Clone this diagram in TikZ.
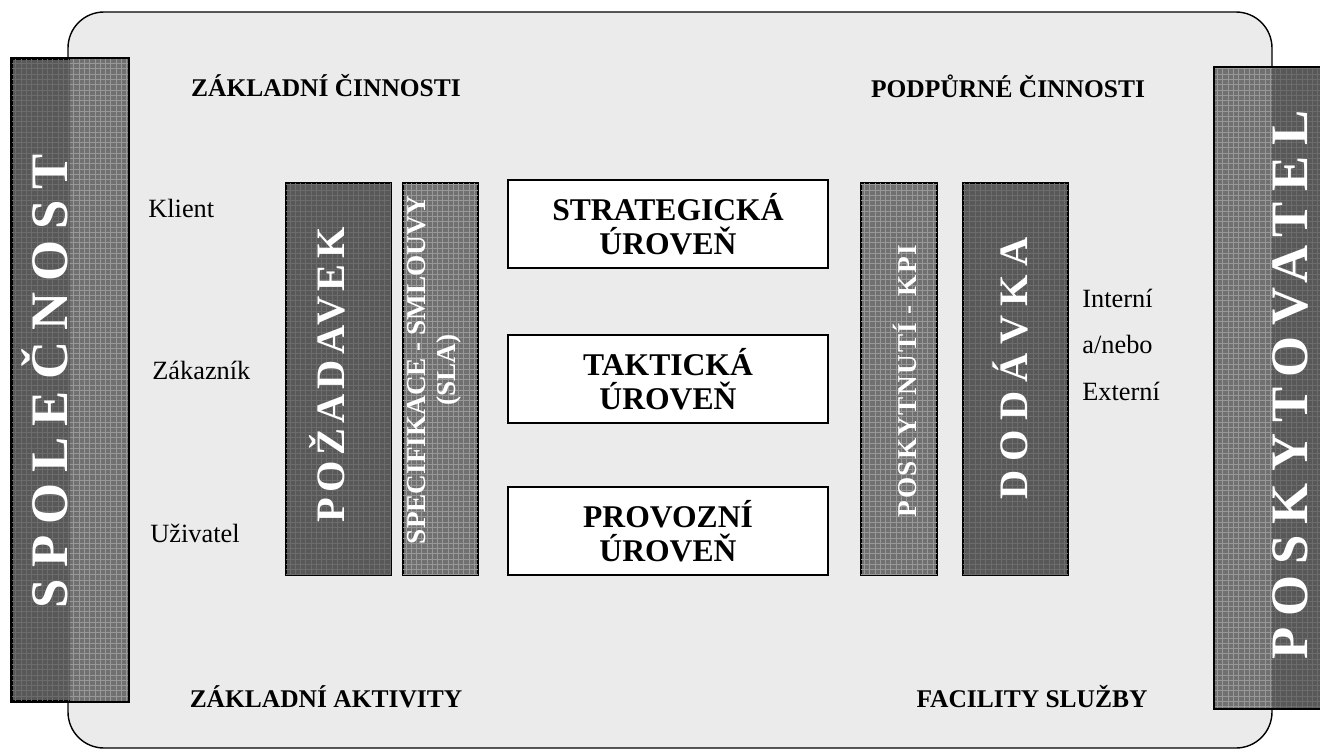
\documentclass[tikz,border=0pt]{standalone}
\usepackage{fontspec}
\setmainfont{Liberation Serif}
\usetikzlibrary{patterns}

\definecolor{panelgray}{RGB}{235,235,235}
\definecolor{bardark}{RGB}{88,88,88}
\definecolor{barmesh}{RGB}{112,112,112}

% fonts for the rotated bar captions
\newcommand\sidefont{\fontsize{30}{30}\selectfont\bfseries\addfontfeature{LetterSpace=21}}
\newcommand\colfont{\fontsize{23}{23}\selectfont\bfseries}
\newcommand\thinfont{\fontsize{15.5}{17}\selectfont\bfseries}
\newcommand\levelfont{\fontsize{18}{19.5}\selectfont\bfseries}
\newcommand\headfont{\fontsize{14.5}{16}\selectfont\bfseries}
\newcommand\labelfont{\fontsize{15}{17}\selectfont}

\tikzset{
  panel/.style={draw=black,line width=0.8pt,fill=panelgray,rounded corners=0.72cm},
  darkbar/.style={draw=black,line width=1pt,fill=bardark,inner sep=0pt,
    postaction={pattern=grid,pattern color=bardark!88!white}},
  meshbar/.style={draw=black,line width=1pt,fill=barmesh,inner sep=0pt,
    postaction={pattern=grid,pattern color=barmesh!72!white}},
  meshhalf/.style={fill=barmesh,postaction={pattern=grid,pattern color=barmesh!72!white}},
  barline/.style={draw=black,line width=1pt},
  bartext/.style={text=white,rotate=90,inner sep=0pt,align=center},
  levelbox/.style={draw=black,line width=1pt,fill=white,align=center,
    minimum width=6.4cm,minimum height=1.76cm,inner sep=0pt,font=\levelfont},
  heading/.style={font=\headfont,inner sep=0pt},
  sidelabel/.style={font=\labelfont,anchor=west,inner sep=0pt}
}

\begin{document}
\begin{tikzpicture}[x=0.02cm,y=-0.02cm]
\useasboundingbox (0,0) rectangle (1320,754);

% background panel
\draw[panel] (68,12) rectangle (1272,748);

% side bars
\node[darkbar,minimum width=2.32cm,minimum height=12.84cm] (spolbar) at (70,380) {};
\path[meshhalf] (spolbar.north) rectangle (spolbar.south east);
\draw[barline] (spolbar.south west) rectangle (spolbar.north east);
\node[bartext,font=\sidefont] (spol) at (45,381) {SPOLEČNOST};

\node[darkbar,minimum width=2.3cm,minimum height=12.82cm] (poskbar) at (1272,388) {};
\path[meshhalf] (poskbar.north west) rectangle (poskbar.south);
\draw[barline] (poskbar.south west) rectangle (poskbar.north east);
\node[bartext,font=\sidefont] (posk) at (1290,385) {POSKYTOVATEL};

% columns left of the levels
\node[darkbar,minimum width=2.1cm,minimum height=7.84cm] (pozbar) at (338.5,379) {};
\node[bartext,font=\colfont\addfontfeature{LetterSpace=13}] (poz) at (327,375) {POŽADAVEK};
\node[meshbar,minimum width=1.5cm,minimum height=7.84cm] (specbar) at (440.5,379) {};
\node[bartext,font=\thinfont] (spec) at (434,370) {SPECIFIKACE - SMLOUVY\\(SLA)};

% levels
\node[levelbox] (strat) at (668,224) {STRATEGICKÁ\\ÚROVEŇ};
\node[levelbox] (takt) at (668,379) {TAKTICKÁ\\ÚROVEŇ};
\node[levelbox] (prov) at (668,531) {PROVOZNÍ\\ÚROVEŇ};

% columns right of the levels
\node[meshbar,minimum width=1.52cm,minimum height=7.84cm] (kpibar) at (899,379) {};
\node[bartext,font=\thinfont\addfontfeature{LetterSpace=6}] (kpi) at (905,381) {POSKYTNUTÍ - KPI};
\node[darkbar,minimum width=2.1cm,minimum height=7.84cm] (dodbar) at (1015.5,379) {};
\node[bartext,font=\colfont\addfontfeature{LetterSpace=22}] (dod) at (1010,368) {DODÁVKA};

% headings
\node[heading] (zakcin) at (326,86) {ZÁKLADNÍ ČINNOSTI};
\node[heading] (podcin) at (1008,86) {PODPŮRNÉ ČINNOSTI};
\node[heading] (zakakt) at (326,697) {ZÁKLADNÍ AKTIVITY};
\node[heading] (facil) at (1032,697) {FACILITY SLUŽBY};

% side labels
\node[sidelabel] (klient) at (148,208) {Klient};
\node[sidelabel] (zakaznik) at (152,370) {Zákazník};
\node[sidelabel] (uzivatel) at (150,533) {Uživatel};
\node[sidelabel] (interni) at (1082,298) {Interní};
\node[sidelabel] (anebo) at (1082,344) {a/nebo};
\node[sidelabel] (externi) at (1082,391) {Externí};
\end{tikzpicture}
\end{document}
